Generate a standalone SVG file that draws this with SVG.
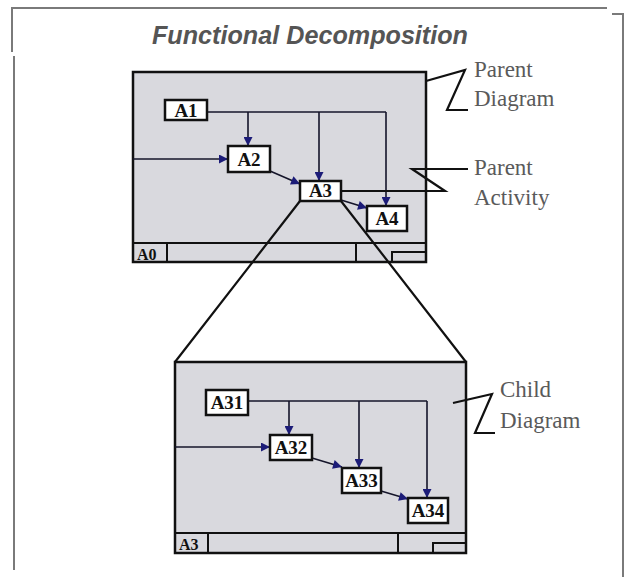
<svg xmlns="http://www.w3.org/2000/svg" width="628" height="577" viewBox="0 0 628 577">
<defs>
<style>
.frame{fill:none;stroke:#7a7a7a;stroke-width:2}
.diag{fill:#d9d9de;stroke:#111;stroke-width:2.5}
.strip{fill:none;stroke:#111;stroke-width:2}
.box{fill:#fff;stroke:#111;stroke-width:2.5}
.bl{font-family:"Liberation Serif","Times New Roman",serif;font-weight:bold;font-size:19px;fill:#111;text-anchor:middle}
.sl{font-family:"Liberation Serif","Times New Roman",serif;font-weight:bold;font-size:16px;fill:#111}
.lab{font-family:"Liberation Serif","Times New Roman",serif;font-size:23px;fill:#5a5a5a}
.con{fill:none;stroke:#15152a;stroke-width:1.6}
.call{fill:none;stroke:#111;stroke-width:2.2}
.arr{marker-end:url(#ah)}
</style>
<marker id="ah" viewBox="0 0 10 10" refX="10" refY="5" markerWidth="11" markerHeight="9" markerUnits="userSpaceOnUse" orient="auto">
<path d="M0,0 L10,5 L0,10 Z" fill="#1c1c78"/>
</marker>
</defs>
<rect width="628" height="577" fill="#fff"/>
<g id="frame">
<path class="frame" d="M12,52 V8 H607"/>
<path class="frame" d="M14,56 V570"/>
<path class="frame" d="M612,14 H623 V577"/>
</g>
<text id="title" x="152" y="44" font-family="'Liberation Sans',Arial,sans-serif" font-weight="bold" font-style="italic" font-size="25" fill="#555" textLength="316" lengthAdjust="spacingAndGlyphs">Functional Decomposition</text>

<g id="parent-diagram">
<rect class="diag" x="133" y="72" width="293" height="190"/>
<path class="strip" d="M133,243 H426 M167,243 V262 M356,243 V262 M392,262 V252 H426"/>
<text class="sl" x="137" y="260">A0</text>
</g>
<g id="child-diagram">
<path d="M300,201 L175,362 M341,201 L466,362" class="call"/>
<rect class="diag" x="175" y="362" width="291" height="191"/>
<path class="strip" d="M175,533 H466 M208,533 V553 M398,533 V553 M433,553 V543 H466"/>
<text class="sl" x="179" y="550">A3</text>
</g>

<g id="connectors">
<path class="con" d="M207,112 H386"/>
<path class="con arr" d="M248,112 V146"/>
<path class="con arr" d="M319,112 V181"/>
<path class="con arr" d="M386,112 V206"/>
<path class="con arr" d="M133,159 H228"/>
<path class="con arr" d="M270,171 L300,184"/>
<path class="con arr" d="M341,200 L367,208"/>
<path class="con" d="M248,401 H427"/>
<path class="con arr" d="M289,401 V435"/>
<path class="con arr" d="M359,401 V468"/>
<path class="con arr" d="M427,401 V498"/>
<path class="con arr" d="M175,447 H270"/>
<path class="con arr" d="M312,458 L342,467"/>
<path class="con arr" d="M381,491 L408,499"/>
</g>

<g id="A1"><rect class="box" x="165" y="100" width="42" height="20"/><text class="bl" x="186" y="117" font-size="17">A1</text></g>
<g id="A2"><rect class="box" x="228" y="146" width="42" height="26"/><text class="bl" x="249" y="166">A2</text></g>
<g id="A3"><rect class="box" x="300" y="181" width="41" height="20"/><text class="bl" x="320.5" y="197" font-size="17">A3</text></g>
<g id="A4"><rect class="box" x="367" y="206" width="40" height="25"/><text class="bl" x="387" y="225">A4</text></g>

<g id="A31"><rect class="box" x="206" y="390" width="42" height="25"/><text class="bl" x="227" y="409">A31</text></g>
<g id="A32"><rect class="box" x="270" y="435" width="42" height="25"/><text class="bl" x="291" y="454">A32</text></g>
<g id="A33"><rect class="box" x="342" y="468" width="39" height="25"/><text class="bl" x="361.5" y="487">A33</text></g>
<g id="A34"><rect class="box" x="408" y="498" width="40" height="25"/><text class="bl" x="428" y="517">A34</text></g>

<g id="parent-diagram-label">
<path class="call" d="M426,81 L465,70 L447,110 H468"/>
<text class="lab" x="474" y="77">Parent</text>
<text class="lab" x="474" y="106">Diagram</text>
</g>
<g id="parent-activity-label">
<path class="call" d="M341,191 H445 L412,169 H468"/>
<text class="lab" x="474" y="175">Parent</text>
<text class="lab" x="474" y="205">Activity</text>
</g>
<g id="child-diagram-label">
<path class="call" d="M453,403 L492,394 L475,433 H495"/>
<text class="lab" x="500" y="397">Child</text>
<text class="lab" x="500" y="428">Diagram</text>
</g>
</svg>
